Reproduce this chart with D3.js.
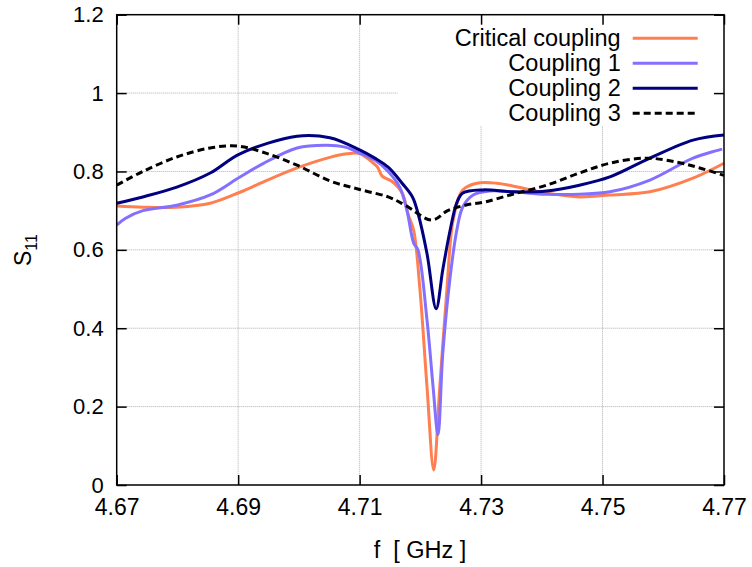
<!DOCTYPE html>
<html>
<head>
<meta charset="utf-8">
<script src="https://cdn.jsdelivr.net/npm/d3@7"></script>
<style>
  body { margin: 0; background: #fff; }
  svg text { font-family: "Liberation Sans", Arial, sans-serif; fill: #000; }
</style>
</head>
<body>
<div id="chart"></div>
<script>
// ---- data ----
var xTicks = [4.67, 4.69, 4.71, 4.73, 4.75, 4.77];
var yTicks = [0, 0.2, 0.4, 0.6, 0.8, 1, 1.2];

var critF = [4.6700, 4.6743, 4.6799, 4.6854, 4.6903, 4.6941, 4.6997, 4.7051, 4.7079, 4.7100, 4.7122, 4.7130, 4.7137, 4.7153, 4.7170, 4.7180, 4.7189, 4.7199, 4.7211, 4.7222, 4.7232, 4.7244, 4.7254, 4.7270, 4.7293, 4.7326, 4.7352, 4.7408, 4.7462, 4.7512, 4.7578, 4.7649, 4.7700];
var critS = [0.712, 0.709, 0.709, 0.719, 0.747, 0.773, 0.809, 0.836, 0.845, 0.846, 0.822, 0.810, 0.788, 0.775, 0.745, 0.690, 0.650, 0.505, 0.250, 0.038, 0.250, 0.505, 0.676, 0.753, 0.770, 0.770, 0.763, 0.745, 0.735, 0.740, 0.748, 0.783, 0.821];

var c1F = [4.6700, 4.6714, 4.6743, 4.6799, 4.6854, 4.6903, 4.6941, 4.6997, 4.7046, 4.7076, 4.7100, 4.7125, 4.7147, 4.7166, 4.7178, 4.7189, 4.7196, 4.7211, 4.7221, 4.7229, 4.7237, 4.7249, 4.7260, 4.7270, 4.7287, 4.7314, 4.7352, 4.7408, 4.7462, 4.7512, 4.7578, 4.7649, 4.7697];
var c1S = [0.663, 0.680, 0.700, 0.714, 0.740, 0.786, 0.820, 0.860, 0.867, 0.862, 0.847, 0.829, 0.800, 0.760, 0.700, 0.617, 0.600, 0.420, 0.250, 0.128, 0.337, 0.530, 0.650, 0.710, 0.740, 0.750, 0.748, 0.742, 0.742, 0.748, 0.778, 0.834, 0.857];

var c2F = [4.6700, 4.6743, 4.6799, 4.6854, 4.6903, 4.6997, 4.7051, 4.7100, 4.7125, 4.7147, 4.7170, 4.7187, 4.7196, 4.7211, 4.7226, 4.7237, 4.7249, 4.7260, 4.7270, 4.7303, 4.7352, 4.7408, 4.7462, 4.7512, 4.7578, 4.7649, 4.7700];
var c2S = [0.719, 0.735, 0.760, 0.796, 0.845, 0.890, 0.886, 0.855, 0.834, 0.811, 0.770, 0.735, 0.694, 0.590, 0.450, 0.550, 0.650, 0.720, 0.745, 0.753, 0.748, 0.750, 0.765, 0.786, 0.834, 0.880, 0.893];

var c3F = [4.6700, 4.6743, 4.6799, 4.6854, 4.6898, 4.6941, 4.6997, 4.7051, 4.7100, 4.7147, 4.7175, 4.7219, 4.7245, 4.7274, 4.7306, 4.7352, 4.7408, 4.7462, 4.7512, 4.7572, 4.7622, 4.7660, 4.7700];
var c3S = [0.765, 0.800, 0.837, 0.860, 0.865, 0.849, 0.816, 0.776, 0.754, 0.735, 0.714, 0.676, 0.700, 0.714, 0.722, 0.742, 0.765, 0.796, 0.821, 0.834, 0.824, 0.809, 0.790];

var seriesNames = ["Critical coupling", "Coupling 1", "Coupling 2", "Coupling 3"];

// ---- layout ----
var W = 752, H = 567;
var margin = {left: 116.7, top: 14.7, right: 28, bottom: 82};
var width = W - margin.left - margin.right,
    height = H - margin.top - margin.bottom;

function zip(fs, ss) {
    return fs.map(function(f, i) { return {f: f, s: ss[i]}; });
}

var series = [
    {name: seriesNames[0], data: zip(critF, critS), color: "#ff7f50", dash: null},
    {name: seriesNames[1], data: zip(c1F, c1S), color: "#8470ff", dash: null},
    {name: seriesNames[2], data: zip(c2F, c2S), color: "#000080", dash: null},
    {name: seriesNames[3], data: zip(c3F, c3S), color: "#000000", dash: "7,4"}
];

var svg = d3.select("#chart").append("svg")
    .attr("width", W)
    .attr("height", H);

var g = svg.append("g")
    .attr("transform", "translate(" + margin.left + "," + margin.top + ")");

var x = d3.scaleLinear().domain([4.67, 4.77]).range([0, width]);
var y = d3.scaleLinear().domain([0, 1.2]).range([height, 0]);

// grid
g.append("g").selectAll("line.vg")
    .data(xTicks.slice(1, -1))
    .enter().append("line")
    .attr("x1", function(d) { return x(d); })
    .attr("x2", function(d) { return x(d); })
    .attr("y1", 0).attr("y2", height)
    .attr("stroke", "#b0b0b0").attr("stroke-width", 1)
    .attr("stroke-dasharray", "1,1");

g.append("g").selectAll("line.hg")
    .data(yTicks.slice(1, -1))
    .enter().append("line")
    .attr("y1", function(d) { return y(d); })
    .attr("y2", function(d) { return y(d); })
    .attr("x1", 0).attr("x2", width)
    .attr("stroke", "#b0b0b0").attr("stroke-width", 1)
    .attr("stroke-dasharray", "1,1");

// legend background hides the grid behind it
var legX = 281, legY = 0;
g.append("rect")
    .attr("x", legX).attr("y", legY)
    .attr("width", width - legX).attr("height", 111)
    .attr("fill", "#fff");

// curves
var line = d3.line()
    .x(function(d) { return x(d.f); })
    .y(function(d) { return y(d.s); })
    .curve(d3.curveCatmullRom.alpha(0.5));

g.append("g").selectAll("path")
    .data(series)
    .enter().append("path")
    .attr("d", function(d) { return line(d.data); })
    .attr("fill", "none")
    .attr("stroke", function(d) { return d.color; })
    .attr("stroke-width", 3)
    .attr("stroke-linejoin", "round")
    .attr("stroke-dasharray", function(d) { return d.dash; });

// axes, ticks pointing inwards, mirrored
var xAxis = d3.axisBottom(x).tickValues(xTicks).tickSize(-10).tickPadding(14)
    .tickFormat(d3.format(".2f"));
var yAxis = d3.axisLeft(y).tickValues(yTicks).tickSize(-10).tickPadding(13)
    .tickFormat(function(d) { return d === 0 ? "0" : d3.format("~g")(d); });

var gx = g.append("g").attr("transform", "translate(0," + height + ")").call(xAxis);
var gy = g.append("g").call(yAxis);
g.append("g").call(d3.axisTop(x).tickValues(xTicks).tickSize(-10).tickFormat(""));
g.append("g").attr("transform", "translate(" + width + ",0)")
    .call(d3.axisRight(y).tickValues(yTicks).tickSize(-10).tickFormat(""));

g.selectAll(".domain").attr("stroke", "none");
g.selectAll(".tick line").attr("stroke", "#000").attr("stroke-width", 1.5);
gx.selectAll("text").style("font-size", "23px").attr("dy", "0.71em");
gy.selectAll("text").style("font-size", "22px");

// frame
g.append("rect")
    .attr("width", width).attr("height", height)
    .attr("fill", "none").attr("stroke", "#000").attr("stroke-width", 1.5);

// legend
var leg = g.append("g").selectAll("g")
    .data(series)
    .enter().append("g")
    .attr("transform", function(d, i) { return "translate(0," + (23.5 + i * 25) + ")"; });

leg.append("text")
    .attr("x", 504)
    .attr("dy", "0.35em")
    .attr("text-anchor", "end")
    .style("font-size", "23.5px")
    .text(function(d) { return d.name; });

leg.append("line")
    .attr("x1", 516).attr("x2", 581)
    .attr("stroke", function(d) { return d.color; })
    .attr("stroke-width", 3)
    .attr("stroke-dasharray", function(d) { return d.dash; });

// axis labels
svg.append("text")
    .attr("x", 420).attr("y", 558)
    .attr("text-anchor", "middle")
    .style("font-size", "23.5px")
    .attr("xml:space", "preserve")
    .text("f  [ GHz ]");

var yl = svg.append("text")
    .attr("transform", "translate(31,250) rotate(-90)")
    .attr("text-anchor", "middle")
    .style("font-size", "23px");
yl.append("tspan").text("S");
yl.append("tspan").attr("dy", 6).style("font-size", "16px").text("11");
</script>
</body>
</html>
